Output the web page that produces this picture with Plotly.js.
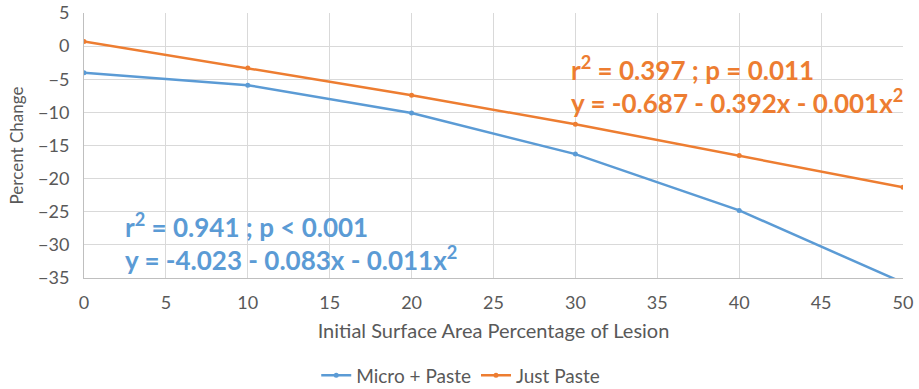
<!DOCTYPE html>
<html>
<head>
<meta charset="utf-8">
<script src="https://cdn.plot.ly/plotly-3.0.1.min.js"></script>
<style>html,body{margin:0;padding:0;background:#fff;}#chart{width:919px;height:389px;}</style>
</head>
<body>
<div id="chart"></div>
<script>
const xValues = [0, 10, 20, 30, 40, 50];
const microPaste = [-4.0, -5.9, -10.1, -16.3, -24.8, -35.7];
const justPaste = [0.7, -3.3, -7.4, -11.8, -16.5, -21.3];
const seriesNames = ["Micro + Paste", "Just Paste"];
const colors = ["#5B9BD5", "#ED7D31"];
const yTicks = [5, 0, -5, -10, -15, -20, -25, -30, -35];
const xTicks = [0, 5, 10, 15, 20, 25, 30, 35, 40, 45, 50];

const font = "Lato, 'Open Sans', sans-serif";
const traces = [
  {x: xValues, y: microPaste, name: seriesNames[0], mode: "lines+markers",
   line: {color: colors[0], width: 2.5}, marker: {color: colors[0], size: 5}},
  {x: xValues, y: justPaste, name: seriesNames[1], mode: "lines+markers",
   line: {color: colors[1], width: 2.5}, marker: {color: colors[1], size: 5}}
];
const layout = {
  width: 919, height: 389,
  margin: {l: 84, r: 16, t: 13, b: 111},
  paper_bgcolor: "#fff", plot_bgcolor: "#fff",
  font: {family: font, color: "#595959", size: 18},
  showlegend: true,
  legend: {orientation: "h", x: 0.46, xanchor: "center", xref: "paper",
           yref: "container", y: 0.035, yanchor: "middle",
           font: {size: 19, color: "#595959"}, itemwidth: 30},
  xaxis: {range: [0, 50], tickvals: xTicks, showgrid: true, gridcolor: "#D9D9D9", gridwidth: 1,
          zeroline: false, showline: true, linecolor: "#BFBFBF", ticks: "", ticklabelstandoff: 8,
          tickfont: {size: 18, color: "#595959"},
          title: {text: "Initial Surface Area Percentage of Lesion", font: {size: 20, color: "#595959"}, standoff: 12}},
  yaxis: {range: [-35, 5], tickvals: yTicks, showgrid: true, gridcolor: "#D9D9D9", gridwidth: 1,
          zeroline: false, showline: true, linecolor: "#BFBFBF", ticks: "", ticklabelstandoff: 10,
          tickfont: {size: 18, color: "#595959"},
          title: {text: "Percent Change", font: {size: 17, color: "#595959"}, standoff: 10}},
  annotations: [
    {xref: "x", yref: "y", x: 29.6, y: -3.4, xanchor: "left", yanchor: "middle", showarrow: false,
     text: "<b>r<sup>2</sup> = 0.397 ; p = 0.011</b>", font: {size: 26, color: colors[1], family: font}},
    {xref: "x", yref: "y", x: 29.6, y: -8.4, xanchor: "left", yanchor: "middle", showarrow: false,
     text: "<b>y = -0.687 - 0.392x - 0.001x<sup>2</sup></b>", font: {size: 26, color: colors[1], family: font}},
    {xref: "x", yref: "y", x: 2.4, y: -27.0, xanchor: "left", yanchor: "middle", showarrow: false,
     text: "<b>r<sup>2</sup> = 0.941 ; p &lt; 0.001</b>", font: {size: 26, color: colors[0], family: font}},
    {xref: "x", yref: "y", x: 2.4, y: -32.0, xanchor: "left", yanchor: "middle", showarrow: false,
     text: "<b>y = -4.023 - 0.083x - 0.011x<sup>2</sup></b>", font: {size: 26, color: colors[0], family: font}}
  ]
};
Plotly.newPlot("chart", traces, layout, {displayModeBar: false, staticPlot: true});
</script>
</body>
</html>
